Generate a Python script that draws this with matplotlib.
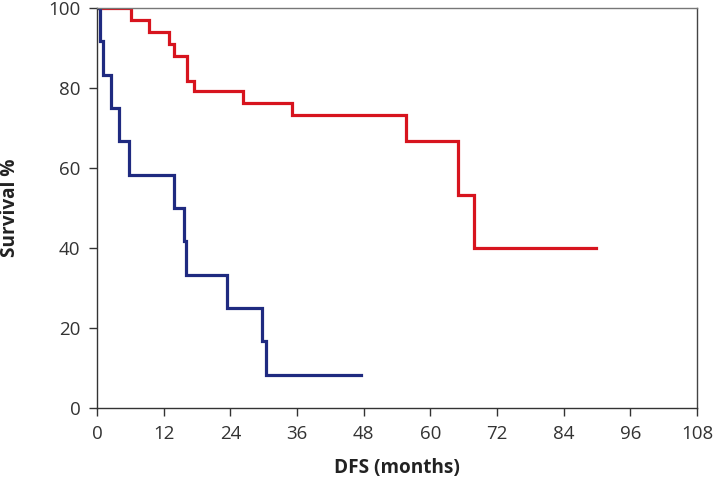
import matplotlib
matplotlib.use("Agg")
import matplotlib.pyplot as plt

plt.rcParams['font.family'] = ['Open Sans', 'DejaVu Sans']

# Group 1 (red) Kaplan-Meier steps
red_t = [0, 6.2, 9.4, 12.9, 13.8, 16.2, 17.5, 26.2, 35.1, 55.7, 65.0, 67.9, 89.8]
red_s = [100, 97.0, 93.9, 90.9, 87.9, 81.8, 79.2, 76.2, 73.3, 66.7, 53.3, 40.0, 40.0]

# Group 2 (blue)
blue_t = [0, 0.5, 1.15, 2.45, 3.9, 5.7, 13.8, 15.6, 16.0, 23.45, 29.7, 30.5, 47.5]
blue_s = [100, 91.7, 83.3, 75.0, 66.7, 58.3, 50.0, 41.7, 33.3, 25.0, 16.7, 8.3, 8.3]

x_ticks = [0, 12, 24, 36, 48, 60, 72, 84, 96, 108]
y_ticks = [0, 20, 40, 60, 80, 100]

fig = plt.figure(figsize=(7.14, 4.78), dpi=100)
ax = fig.add_axes([0.1359, 0.1464, 0.8403, 0.8369])

ax.step(red_t, red_s, where='post', color='#d7141e', lw=2.3, solid_joinstyle='miter')
ax.step(blue_t, blue_s, where='post', color='#1f2a80', lw=2.3, solid_joinstyle='miter')

ax.set_xlim(0, 108)
ax.set_ylim(0, 100)
ax.set_xticks(x_ticks)
ax.set_yticks(y_ticks)
ax.tick_params(axis='both', labelsize=13.5, length=6, width=1, color='#333333', labelcolor='#333333')
ax.tick_params(axis='x', pad=6)
ax.tick_params(axis='y', pad=6)
for s in ax.spines.values():
    s.set_linewidth(1)
ax.spines['left'].set_color('#333333')
ax.spines['bottom'].set_color('#333333')
ax.spines['top'].set_color('#777777')
ax.spines['right'].set_color('#444444')

ax.set_xlabel('DFS (months)', fontsize=13.7, fontweight='bold', color='#222222', labelpad=11)
ax.set_ylabel('Survival %', fontsize=13.7, fontweight='bold', color='#222222', labelpad=20)

fig.savefig('out.png', dpi=100)
